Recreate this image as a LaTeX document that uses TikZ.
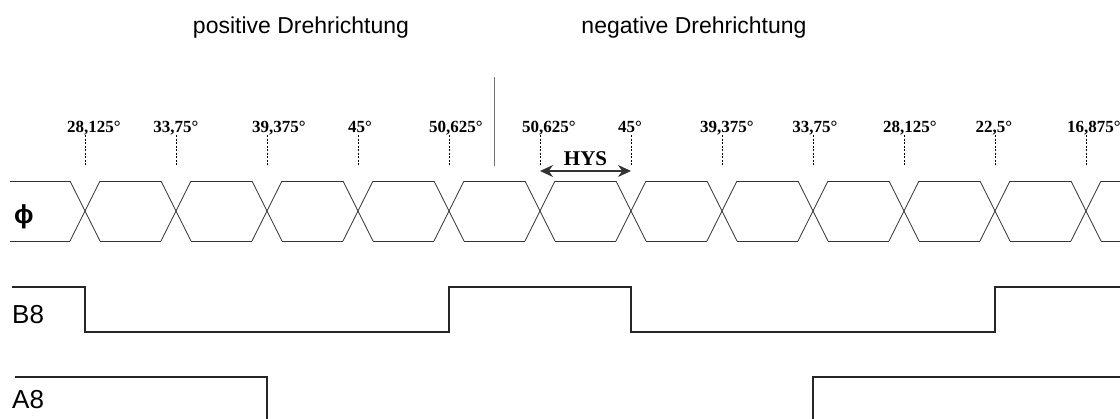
\documentclass[tikz,border=0pt]{standalone}
\usepackage{fontspec}
\setmainfont{Liberation Serif}
\setsansfont{Liberation Sans}
\usepackage{tikz}
\usetikzlibrary{arrows.meta}

\begin{document}
\begin{tikzpicture}[x=1pt,y=-1pt,every node/.style={inner sep=0pt},
	title/.style={font=\sffamily\fontsize{23}{27}\selectfont,anchor=base},
	siglabel/.style={font=\sffamily\fontsize{26}{30}\selectfont,anchor=base west},
	anglelabel/.style={font=\bfseries\fontsize{17}{20}\selectfont,anchor=base},
	wave/.style={draw=black!80,line width=0.8pt},
	signal/.style={draw=black!85,line width=1.3pt},
	tick/.style={draw=black,line width=0.8pt,dash pattern=on 2pt off 1.5pt}]
\def\pitch{91}
\def\half{15}
\def\wtop{181}
\def\wbot{241}
\pgfmathparse{(\wtop+\wbot)/2}
\xdef\wmid{\pgfmathresult}

\useasboundingbox (0,0) rectangle (1120,418);
\clip (0,0) rectangle (1120,418);

%titles
\node[title] (pos) at (301,33) {positive Drehrichtung};
\node[title] (neg) at (694,33) {negative Drehrichtung};

%separator
\coordinate (septop) at (494.5,77);
\coordinate (sepbot) at (494.5,166);
\draw[black!55,line width=1.2pt] (septop) -- (sepbot);

%crossings
\foreach \k in {0,...,11}
	{\pgfmathsetmacro{\cx}{85+\pitch*\k}
	\coordinate (c\k) at (\cx,\wmid);
	\coordinate (t\k) at (\cx,135);
	\coordinate (b\k) at (\cx,165);
	\coordinate (h\k) at (\cx,171);
	\draw[tick] (t\k) -- (b\k);}

%angle labels
\foreach \k/\val/\dx in {0/{28,125}/9,1/{33,75}/0,2/{39,375}/12,3/{45}/2,4/{50,625}/7,
	5/{50,625}/9,6/{45}/-1,7/{39,375}/5,8/{33,75}/2,9/{28,125}/6,10/{22,5}/-1,11/{16,875}/8}
	{\pgfmathsetmacro{\lx}{85+\pitch*\k+\dx}
	\node[anglelabel] (l\k) at (\lx,132) {\val°};}

%phi
\node[siglabel,font=\sffamily\bfseries\fontsize{26}{30}\selectfont] (phi) at (14,223) {ϕ};
\draw[wave] (10,\wtop) -- (85-\half,\wtop);
\draw[wave] (10,\wbot) -- (85-\half,\wbot);
\foreach \k in {0,...,11}
	{\pgfmathsetmacro{\cx}{85+\pitch*\k}
	\draw[wave] (\cx-\half,\wtop) -- (\cx+\half,\wbot);
	\draw[wave] (\cx-\half,\wbot) -- (\cx+\half,\wtop);
	\draw[wave] (\cx+\half,\wtop) -- (\cx+\pitch-\half,\wtop);
	\draw[wave] (\cx+\half,\wbot) -- (\cx+\pitch-\half,\wbot);}

%hysteresis
\draw[{Stealth[length=13pt,width=12pt]}-{Stealth[length=13pt,width=12pt]},line width=1.2pt,black!80] (h5) -- (h6);
\node[anglelabel,font=\bfseries\fontsize{21}{24}\selectfont] (hys) at (585.5,165) {HYS};

%B8
\node[siglabel] (b8) at (12,323) {B8};
\draw[signal] (12,287) -- (85,287) -- (85,332) -- (449,332) -- (449,287)
	-- (631,287) -- (631,332) -- (995,332) -- (995,287) -- (1125,287);

%A8
\node[siglabel] (a8) at (12,408) {A8};
\draw[signal] (15,377) -- (267,377) -- (267,425);
\draw[signal] (813,425) -- (813,377) -- (1125,377);
\end{tikzpicture}
\end{document}
